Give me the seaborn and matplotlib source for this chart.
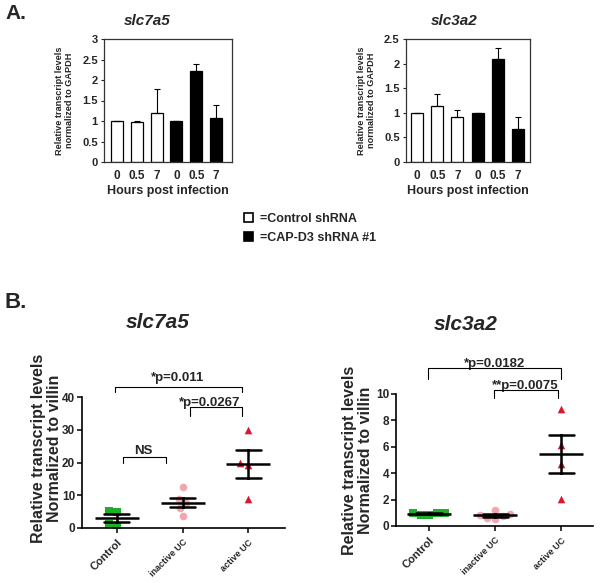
"""
Two-panel figure: qPCR bars (A) and patient scatter with mean +/- SEM (B).
"""

import matplotlib.pyplot as plt
import numpy as np
import pandas as pd
import seaborn as sns
from matplotlib.patches import Patch
from matplotlib.ticker import FormatStrFormatter, MultipleLocator

# Panel A: hours post infection, control shRNA then CAP-D3 shRNA
HOURS = ["0", "0.5", "7", "0", "0.5", "7"]
BAR_COLORS = ["white", "white", "white", "black", "black", "black"]
SLC7A5_BARS = [1.0, 0.97, 1.2, 1.0, 2.22, 1.07]
SLC7A5_BARS_ERR = [0.0, 0.04, 0.57, 0.0, 0.17, 0.32]
SLC3A2_BARS = [1.0, 1.14, 0.92, 1.0, 2.09, 0.68]
SLC3A2_BARS_ERR = [0.0, 0.25, 0.14, 0.0, 0.23, 0.23]

# Panel B: transcript levels normalized to villin
GROUPS = ["Control", "inactive UC", "active UC"]
SLC7A5_CONTROL = [5.2, 5.0, 1.2, 0.6]
SLC7A5_INACTIVE = [12.6, 8.8, 7.5, 6.0, 3.8]
SLC7A5_ACTIVE = [30.0, 19.2, 19.8, 9.0]
SLC3A2_CONTROL = [1.0, 0.95, 0.85, 0.8, 1.0]
SLC3A2_INACTIVE = [1.2, 0.9, 0.75, 0.6, 0.55, 0.8]
SLC3A2_ACTIVE = [8.9, 6.1, 4.7, 2.05]

GROUP_STYLE = {
    "Control": ("s", "#1fae2a"),
    "inactive UC": ("o", "#f2a6ae"),
    "active UC": ("^", "#d7192f"),
}

sns.set_theme(style="ticks")
plt.rcParams["font.family"] = ["Liberation Sans", "DejaVu Sans"]
plt.rcParams["font.weight"] = "bold"
plt.rcParams["axes.labelweight"] = "bold"


def plot_bars(ax, values, errs, xlim, ymax):
    df = pd.DataFrame({"bar": range(len(values)), "value": values})
    sns.barplot(
        data=df, x="bar", y="value", hue="bar", palette=BAR_COLORS,
        legend=False, edgecolor="black", linewidth=0.9, width=0.6, ax=ax,
    )
    ax.errorbar(
        df["bar"], values, yerr=[np.zeros(len(errs)), errs], fmt="none",
        ecolor="black", elinewidth=0.8, capsize=2.5, capthick=0.8, zorder=3,
    )
    ax.set_xlim(*xlim)
    ax.set_ylim(0, ymax)
    ax.yaxis.set_major_locator(MultipleLocator(0.5))
    ax.yaxis.set_major_formatter(FormatStrFormatter("%g"))
    ax.set_xticks(range(len(HOURS)))
    ax.set_xticklabels(HOURS, fontsize=8.5)
    ax.tick_params(axis="x", length=0, pad=6)
    ax.tick_params(axis="y", length=2.5, width=0.8, labelsize=8, pad=2)
    for spine in ax.spines.values():
        spine.set_visible(True)
        spine.set_linewidth(0.9)
        spine.set_color("#333333")
    ax.set_xlabel("Hours post infection", fontsize=9, labelpad=2)
    ax.set_ylabel("Relative transcript levels\nnormalized to GAPDH",
                  fontsize=6.6, labelpad=6, linespacing=1.15)


def plot_scatter(ax, groups_data, xlim, ymax, ystep):
    rows = [(g, v) for g, vals in zip(GROUPS, groups_data) for v in vals]
    df = pd.DataFrame(rows, columns=["group", "value"])
    for g in GROUPS:
        marker, color = GROUP_STYLE[g]
        sns.swarmplot(
            data=df[df["group"] == g], x="group", y="value", order=GROUPS,
            marker=marker, color=color, size=5.5, ax=ax, zorder=2,
        )
    sns.pointplot(
        data=df, x="group", y="value", order=GROUPS, errorbar="se",
        capsize=0.38, color="black", marker="_", linestyle="none",
        markersize=31, markeredgewidth=1.8, err_kws={"linewidth": 1.8},
        ax=ax, zorder=3,
    )
    ax.set_xlim(*xlim)
    ax.set_ylim(0, ymax)
    ax.yaxis.set_major_locator(MultipleLocator(ystep))
    sns.despine(ax=ax)
    for spine in ("left", "bottom"):
        ax.spines[spine].set_linewidth(1.2)
        ax.spines[spine].set_color("black")
    ax.tick_params(axis="both", length=3.5, width=1.1, color="black")
    ax.tick_params(axis="y", labelsize=8.5, pad=1.5)
    labels = ax.set_xticklabels(GROUPS, rotation=45, ha="right",
                                rotation_mode="anchor")
    for lab, size in zip(labels, [8, 6.5, 6.5]):
        lab.set_fontsize(size)
    ax.set_xlabel("")
    ax.set_ylabel("Relative transcript levels\nNormalized to villin",
                  fontsize=11.5, labelpad=2, linespacing=1.05)


def bracket(ax, x0, x1, y, leg, text, tx, ty):
    ax.plot([x0, x0, x1, x1], [y - leg, y, y, y - leg], color="black",
            linewidth=0.8, clip_on=False, zorder=4)
    ax.text(tx, ty, text, ha="center", va="baseline", fontsize=9.5,
            fontweight="bold", clip_on=False)


fig = plt.figure(figsize=(6.01, 5.83), dpi=100)

ax_a1 = fig.add_axes([104 / 601, 421 / 583, 128 / 601, 123 / 583])
ax_a2 = fig.add_axes([406 / 601, 421 / 583, 124 / 601, 123 / 583])
plot_bars(ax_a1, SLC7A5_BARS, SLC7A5_BARS_ERR, (-0.65, 5.8), 3)
plot_bars(ax_a2, SLC3A2_BARS, SLC3A2_BARS_ERR, (-0.55, 5.6), 2.5)

fig.text(147 / 601, 562 / 583, "slc7a5", ha="center", va="center",
         fontsize=11, fontweight="bold", style="italic")
fig.text(454 / 601, 562 / 583, "slc3a2", ha="center", va="center",
         fontsize=11, fontweight="bold", style="italic")

fig.legend(
    handles=[Patch(facecolor="white", edgecolor="black", linewidth=1.2),
             Patch(facecolor="black", edgecolor="black", linewidth=1.2)],
    labels=["=Control shRNA", "=CAP-D3 shRNA #1"],
    loc="upper left", bbox_to_anchor=(244 / 601, 1 - 213 / 583),
    frameon=False, fontsize=9, handlelength=0.75, handleheight=0.75,
    handletextpad=0.5, labelspacing=0.55, borderpad=0, borderaxespad=0,
)

ax_b1 = fig.add_axes([82 / 601, 55 / 583, 203 / 601, 131 / 583])
ax_b2 = fig.add_axes([396 / 601, 57 / 583, 197 / 601, 132 / 583])
plot_scatter(ax_b1, [SLC7A5_CONTROL, SLC7A5_INACTIVE, SLC7A5_ACTIVE],
             (-0.53, 2.56), 40, 10)
plot_scatter(ax_b2, [SLC3A2_CONTROL, SLC3A2_INACTIVE, SLC3A2_ACTIVE],
             (-0.5, 2.48), 10, 2)
ax_b1.yaxis.set_label_coords(-0.10, 0.61)

bracket(ax_b1, -0.03, 1.9, 43.0, 1.5, "*p=0.011", 0.93, 44.8)
bracket(ax_b1, 1.11, 1.91, 37.0, 2.8, "*p=0.0267", 1.42, 37.1)
bracket(ax_b1, 0.09, 0.75, 21.7, 1.8, "NS", 0.4, 22.5)
bracket(ax_b2, -0.02, 2.0, 12.0, 0.9, "*p=0.0182", 0.99, 12.05)
bracket(ax_b2, 0.98, 1.95, 10.3, 0.6, "**p=0.0075", 1.46, 10.35)

fig.text(158 / 601, 260 / 583, "slc7a5", ha="center", va="center",
         fontsize=15, fontweight="bold", style="italic")
fig.text(466 / 601, 259 / 583, "slc3a2", ha="center", va="center",
         fontsize=15, fontweight="bold", style="italic")

fig.text(5 / 601, 1 - 4 / 583, "A.", ha="left", va="top", fontsize=15,
         fontweight="bold")
fig.text(5 / 601, 1 - 292 / 583, "B.", ha="left", va="top", fontsize=16,
         fontweight="bold")

fig.savefig("out.png", dpi=100)
plt.close(fig)
